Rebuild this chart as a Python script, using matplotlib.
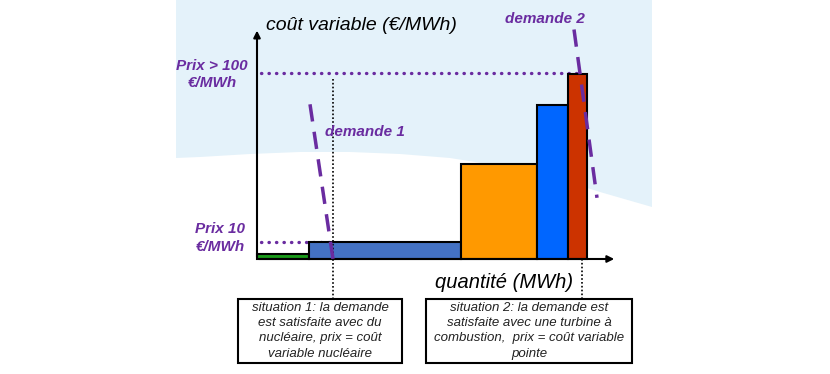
import numpy as np
import matplotlib
matplotlib.use('Agg')
import matplotlib.pyplot as plt
from matplotlib.patches import Rectangle, Polygon

plt.rcParams['font.family'] = ['Liberation Sans', 'DejaVu Sans']

# Merit order data: width = capacity (quantité), height = variable cost (€/MWh)
technologies = ['renouvelable', 'nucléaire', 'charbon', 'gaz', 'turbine à combustion']
capacities = [5.2, 15.2, 7.6, 3.1, 1.9]
costs = [3, 10, 56, 90.5, 109]
colors = ['#1a9a1a', '#4472c4', '#ff9900', '#0066ff', '#cc3300']

# Demand curves (quantité, prix)
demande1_q = [5.3, 7.6]
demande1_p = [91, 0]
demande2_q = [31.7, 34.0]
demande2_p = [135, 36]

# Market clearing points
q_situation1 = 7.6
q_situation2 = 32.5
prix_bas = 10
prix_haut = 109.5

purple = '#6a2ca0'

fig = plt.figure(figsize=(8.3, 3.74), dpi=100)

# Background decoration (pixel coordinates)
bg = fig.add_axes([0, 0, 1, 1], zorder=0)
bg.set_xlim(0, 830)
bg.set_ylim(374, 0)
bg.axis('off')
shape_x = [176, 652, 652, 600, 550, 500, 450, 400, 350, 300, 250, 200, 176]
shape_y = [0, 0, 207, 192, 176, 166, 158, 154, 152, 152, 154, 157, 158]
bg.add_patch(Polygon(np.column_stack([shape_x, shape_y]), closed=True,
                     facecolor='#e4f2fa', edgecolor='none'))

# Main diagram in data coordinates
ax = fig.add_axes([0, 0, 1, 1], zorder=1)
ax.patch.set_alpha(0)
ax.set_xlim(-25.7, 57.3)
ax.set_ylim(-67.65, 152.35)
ax.axis('off')

lefts = np.concatenate([[0], np.cumsum(capacities)[:-1]])

# horizontal price lines
ax.plot([0.4, q_situation1], [prix_bas, prix_bas], color=purple, lw=2.4,
        linestyle=(0, (0.1, 2.15)), dash_capstyle='round', zorder=1)
ax.plot([0.4, 32.1], [prix_haut, prix_haut], color=purple, lw=2.4,
        linestyle=(0, (0.1, 2.15)), dash_capstyle='round', zorder=1)

ax.bar(lefts, costs, width=capacities, align='edge', color=colors,
       edgecolor='black', linewidth=1.5, zorder=2)

# vertical dotted lines down to the text boxes
ax.plot([q_situation1, q_situation1], [106, -23.5], color='black', lw=1.2,
        linestyle=(0, (1, 1.3)), zorder=3)
ax.plot([q_situation2, q_situation2], [0, -23.5], color='black', lw=1.2,
        linestyle=(0, (1, 1.3)), zorder=3)

# axes with arrows
ax.annotate('', xy=(0, 136), xytext=(0, -0.5),
            arrowprops=dict(arrowstyle='-|>', color='black', lw=1.5, mutation_scale=10),
            zorder=4)
ax.annotate('', xy=(36, 0), xytext=(-0.1, 0),
            arrowprops=dict(arrowstyle='-|>', color='black', lw=1.5, mutation_scale=10),
            zorder=4)

# demand curves
ax.plot(demande1_q, demande1_p, color=purple, lw=2.5, dashes=(5, 3), zorder=5)
ax.plot(demande2_q, demande2_p, color=purple, lw=2.5, dashes=(5, 3), zorder=5)

# labels
ax.text(0.9, 137.6, 'coût variable (€/MWh)', fontsize=14, style='italic',
        ha='left', va='center')
ax.text(17.8, -14, 'quantité (MWh)', fontsize=14.5, style='italic',
        ha='left', va='center')
ax.text(6.8, 74.7, 'demande 1', fontsize=11, style='italic', weight='bold',
        color=purple, ha='left', va='center')
ax.text(24.8, 141.2, 'demande 2', fontsize=11, style='italic', weight='bold',
        color=purple, ha='left', va='center')
ax.text(-4.5, 108.5, 'Prix > 100\n€/MWh', fontsize=11, style='italic', weight='bold',
        color=purple, ha='center', va='center', multialignment='center', linespacing=1.3)
ax.text(-3.7, 12.4, 'Prix 10\n€/MWh', fontsize=11, style='italic', weight='bold',
        color=purple, ha='center', va='center', multialignment='center', linespacing=1.3)

# explanation boxes
ax.add_patch(Rectangle((-1.9, -61.2), 16.4, 37.7, facecolor='white',
                       edgecolor='black', lw=1.5, zorder=3))
ax.add_patch(Rectangle((16.9, -61.2), 20.6, 37.7, facecolor='white',
                       edgecolor='black', lw=1.5, zorder=3))
ax.text(6.3, -42.3, 'situation 1: la demande\nest satisfaite avec du\n'
        'nucléaire, prix = coût\nvariable nucléaire',
        fontsize=9.5, style='italic', ha='center', va='center', color='#222222',
        multialignment='center', linespacing=1.35, zorder=4)
ax.text(27.2, -42.3, 'situation 2: la demande est\nsatisfaite avec une turbine à\n'
        'combustion,  prix = coût variable\npointe',
        fontsize=9.5, style='italic', ha='center', va='center', color='#222222',
        multialignment='center', linespacing=1.35, zorder=4)

fig.savefig('out.png', dpi=100)
